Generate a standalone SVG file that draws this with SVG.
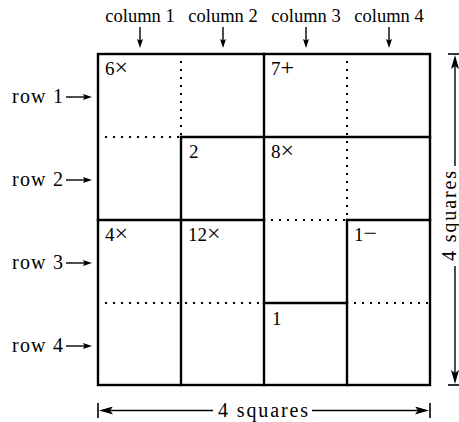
<svg xmlns="http://www.w3.org/2000/svg" width="459" height="422" viewBox="0 0 459 422">
<style>
.col{font-size:18.5px;text-anchor:middle}
.row{font-size:20px;text-anchor:end}
.cell{font-size:19px}
.op{font-size:24px}
.dim{font-size:20px;text-anchor:middle}
.thick{stroke:#000;stroke-width:2.4;stroke-linecap:square;fill:none}
.dot{stroke:#000;stroke-width:2;stroke-dasharray:2 6;fill:none}
.arr{stroke:#000;stroke-width:1.4;fill:none}
.bar{stroke:#000;stroke-width:1.6}
</style>
<defs>
<marker id="sm" viewBox="0 0 9 6" refX="5" refY="3" markerWidth="9" markerHeight="6" markerUnits="userSpaceOnUse" orient="auto"><path d="M0,0 L9,3 L0,6 L1.5,3 Z" fill="#000"/></marker>
<marker id="lg" viewBox="0 0 14 8" refX="10" refY="4" markerWidth="14" markerHeight="8" markerUnits="userSpaceOnUse" orient="auto"><path d="M0,0 L14,4 L0,8 L3,4 Z" fill="#000"/></marker>
</defs>
<rect width="459" height="422" fill="#fff"/>
<g id="grid">
<g id="dotted">
<line class="dot" x1="105" y1="137" x2="181" y2="137"/>
<line class="dot" x1="181" y1="61" x2="181" y2="137"/>
<line class="dot" x1="347" y1="61" x2="347" y2="220"/>
<line class="dot" x1="271" y1="220" x2="347" y2="220"/>
<line class="dot" x1="105" y1="303" x2="264" y2="303"/>
<line class="dot" x1="354" y1="303" x2="430" y2="303"/>
</g>
<g id="cages">
<rect class="thick" x="98" y="54" width="332" height="331"/>
<line class="thick" x1="181" y1="137" x2="430" y2="137"/>
<line class="thick" x1="98" y1="220" x2="264" y2="220"/>
<line class="thick" x1="347" y1="220" x2="430" y2="220"/>
<line class="thick" x1="264" y1="303" x2="347" y2="303"/>
<line class="thick" x1="181" y1="137" x2="181" y2="385"/>
<line class="thick" x1="264" y1="54" x2="264" y2="385"/>
<line class="thick" x1="347" y1="220" x2="347" y2="385"/>
</g>
</g>
<g font-family="'Liberation Serif', 'Times New Roman', serif" fill="#000">
<g id="cell-labels">
<text class="cell" x="105" y="75">6<tspan class="op">×</tspan></text>
<text class="cell" x="271" y="75">7<tspan class="op">+</tspan></text>
<text class="cell" x="189" y="158">2</text>
<text class="cell" x="271" y="158">8<tspan class="op">×</tspan></text>
<text class="cell" x="105" y="241">4<tspan class="op">×</tspan></text>
<text class="cell" x="188" y="241">12<tspan class="op">×</tspan></text>
<text class="cell" x="354" y="241">1<tspan class="op">−</tspan></text>
<text class="cell" x="272" y="325">1</text>
</g>
<g id="column-labels">
<text class="col" x="140" y="22">column 1</text>
<text class="col" x="223" y="22">column 2</text>
<text class="col" x="306" y="22">column 3</text>
<text class="col" x="389" y="22">column 4</text>
</g>
<g id="row-labels">
<text class="row" x="63" y="103" textLength="51">row 1</text>
<text class="row" x="63" y="186" textLength="51">row 2</text>
<text class="row" x="63" y="269" textLength="51">row 3</text>
<text class="row" x="63" y="352" textLength="51">row 4</text>
</g>
<g id="dimension-labels">
<text class="dim" x="263" y="417" textLength="90">4 squares</text>
<text class="dim" transform="translate(455.5,216) rotate(-90)" textLength="90">4 squares</text>
</g>
</g>
<g id="connectors">
<line class="arr" x1="140" y1="27" x2="140" y2="44" marker-end="url(#sm)"/>
<line class="arr" x1="223" y1="27" x2="223" y2="44" marker-end="url(#sm)"/>
<line class="arr" x1="306" y1="27" x2="306" y2="44" marker-end="url(#sm)"/>
<line class="arr" x1="389" y1="27" x2="389" y2="44" marker-end="url(#sm)"/>
<line class="arr" x1="66" y1="97" x2="88" y2="97" marker-end="url(#sm)"/>
<line class="arr" x1="66" y1="180" x2="88" y2="180" marker-end="url(#sm)"/>
<line class="arr" x1="66" y1="263" x2="88" y2="263" marker-end="url(#sm)"/>
<line class="arr" x1="66" y1="346" x2="88" y2="346" marker-end="url(#sm)"/>
<line class="bar" x1="98" y1="403" x2="98" y2="418"/>
<line class="bar" x1="430" y1="403" x2="430" y2="418"/>
<line class="arr" x1="213" y1="410.5" x2="103" y2="410.5" marker-end="url(#lg)"/>
<line class="arr" x1="312" y1="410.5" x2="425" y2="410.5" marker-end="url(#lg)"/>
<line class="bar" x1="448" y1="54" x2="463" y2="54"/>
<line class="bar" x1="448" y1="385" x2="463" y2="385"/>
<line class="arr" x1="455" y1="166" x2="455" y2="59" marker-end="url(#lg)"/>
<line class="arr" x1="455" y1="266" x2="455" y2="380" marker-end="url(#lg)"/>
</g>
</svg>
